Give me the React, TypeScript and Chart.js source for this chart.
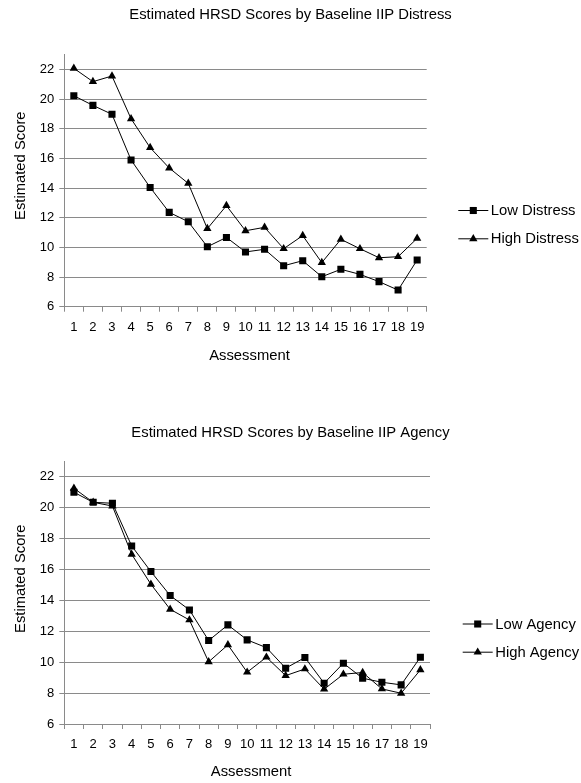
import React, { useEffect, useRef } from 'react';
import { Chart, registerables } from 'chart.js';

Chart.register(...registerables);

// ---------- data ----------
const assessments = ['1', '2', '3', '4', '5', '6', '7', '8', '9', '10', '11', '12', '13', '14', '15', '16', '17', '18', '19'];
const yTickValues = [6, 8, 10, 12, 14, 16, 18, 20, 22];

const lowDistress = [20.22, 19.57, 18.97, 15.89, 14.04, 12.36, 11.73, 10.04, 10.67, 9.69, 9.87, 8.76, 9.1, 8.02, 8.52, 8.18, 7.69, 7.12, 9.15];
const highDistress = [22.07, 21.17, 21.55, 18.67, 16.72, 15.35, 14.31, 11.26, 12.81, 11.12, 11.35, 9.91, 10.79, 8.97, 10.54, 9.91, 9.3, 9.37, 10.61];

const lowAgency = [20.99, 20.34, 20.28, 17.52, 15.86, 14.31, 13.38, 11.4, 12.41, 11.44, 10.94, 9.61, 10.3, 8.64, 9.93, 8.96, 8.7, 8.53, 10.32];
const highAgency = [21.25, 20.34, 20.1, 16.98, 15.04, 13.42, 12.73, 10.02, 11.12, 9.35, 10.32, 9.13, 9.56, 8.25, 9.22, 9.33, 8.27, 7.99, 9.5];

const title1 = 'Estimated HRSD Scores by Baseline IIP Distress';
const title2 = 'Estimated HRSD Scores by Baseline IIP Agency';
const xTitle = 'Assessment';
const yTitle = 'Estimated Score';

// ---------- style ----------
const FAMILY = '"Liberation Sans", Arial, sans-serif';
const BIG = 14.8;
const SMALL = 13;
const GRID = '#8a8a8a';
const INK = '#000000';
const SQUARE_R = 5;
const TRI_R = 4.8;

function drawMarker(ctx: CanvasRenderingContext2D, style: string, r: number, x: number, y: number) {
  ctx.beginPath();
  if (style === 'rect') {
    const s = Math.SQRT1_2 * r;
    ctx.rect(x - s, y - s, 2 * s, 2 * s);
  } else {
    const a = Math.PI / 2;
    ctx.moveTo(x + Math.cos(a + Math.PI) * 0 , y - r);
    ctx.lineTo(x - r * Math.sin(Math.PI / 3), y + r * Math.cos(Math.PI / 3));
    ctx.lineTo(x + r * Math.sin(Math.PI / 3), y + r * Math.cos(Math.PI / 3));
    ctx.closePath();
    void a;
  }
  ctx.fill();
}

const decorPlugin = {
  id: 'decor',
  afterDraw(chart: any, _args: any, opts: any) {
    const ctx: CanvasRenderingContext2D = chart.ctx;
    const ca = chart.chartArea;
    ctx.save();
    ctx.fillStyle = INK;
    ctx.font = `${BIG}px ${FAMILY}`;
    ctx.textAlign = 'center';
    ctx.textBaseline = 'middle';
    // chart title
    ctx.fillText(opts.title, chart.width / 2, opts.titleY);
    // x axis title
    ctx.fillText(opts.xTitle, (ca.left + ca.right) / 2 + 4, opts.xTitleY);
    // y axis title
    ctx.save();
    ctx.translate(opts.yTitleX, opts.yTitleY);
    ctx.rotate(-Math.PI / 2);
    ctx.fillText(opts.yTitle, 0, 0);
    ctx.restore();
    // legend
    chart.data.datasets.forEach((ds: any, i: number) => {
      const y = opts.legendY[i];
      const x0 = opts.legendX;
      ctx.strokeStyle = ds.borderColor;
      ctx.lineWidth = 1;
      ctx.beginPath();
      ctx.moveTo(x0, y + 0.5);
      ctx.lineTo(x0 + 30, y + 0.5);
      ctx.stroke();
      ctx.fillStyle = ds.pointBackgroundColor;
      drawMarker(ctx, ds.pointStyle, ds.pointRadius, x0 + 15, y + 0.5);
      ctx.fillStyle = INK;
      ctx.textAlign = 'left';
      ctx.fillText(ds.label, x0 + 32.5, y + 1);
    });
    ctx.restore();
  },
};

function makeConfig(p: any) {
  const ds = (label: string, data: number[], style: string, r: number) => ({
    label,
    data,
    borderColor: INK,
    backgroundColor: INK,
    borderWidth: 1,
    pointStyle: style,
    pointRadius: r,
    pointHoverRadius: r,
    pointBorderWidth: 0,
    pointBackgroundColor: INK,
    pointBorderColor: INK,
    tension: 0,
  });
  return {
    type: 'line',
    data: {
      labels: assessments,
      datasets: [ds(p.labels[0], p.series[0], 'rect', SQUARE_R), ds(p.labels[1], p.series[1], 'triangle', TRI_R)],
    },
    options: {
      responsive: false,
      animation: false,
      events: [],
      layout: { padding: { top: p.padTop, right: p.padRight, bottom: p.padBottom, left: 0 } },
      plugins: {
        legend: { display: false },
        tooltip: { enabled: false },
        title: { display: false },
        decor: p.decor,
      },
      scales: {
        x: {
          type: 'category',
          offset: true,
          grid: { offset: true, drawOnChartArea: false, drawTicks: true, tickLength: 5, color: GRID, lineWidth: 1 },
          border: { color: GRID, width: 1 },
          ticks: { color: INK, font: { size: SMALL, family: FAMILY }, padding: 8, maxRotation: 0, autoSkip: false },
          afterFit: (s: any) => { s.height = p.xHeight; },
        },
        y: {
          type: 'linear',
          min: 6,
          max: 23,
          afterBuildTicks: (s: any) => { s.ticks = yTickValues.map((v) => ({ value: v })); },
          grid: { color: GRID, lineWidth: 1, tickLength: 5 },
          border: { color: GRID, width: 1 },
          ticks: { color: INK, font: { size: SMALL, family: FAMILY }, padding: 5 },
          afterFit: (s: any) => { s.width = 64.3; },
        },
      },
    },
    plugins: [decorPlugin],
  };
}

function ChartBox({ config, top, height }: { config: any; top: number; height: number }) {
  const ref = useRef<HTMLCanvasElement | null>(null);
  useEffect(() => {
    if (!ref.current) return;
    const chart = new Chart(ref.current, config);
    return () => chart.destroy();
  }, [config]);
  return (
    <canvas
      ref={ref}
      width={581}
      height={height}
      style={{ position: 'absolute', left: 0, top, width: 581, height, display: 'block' }}
    />
  );
}

const config1 = makeConfig({
  labels: ['Low Distress', 'High Distress'],
  series: [lowDistress, highDistress],
  padTop: 54.5,
  padRight: 154.3,
  padBottom: 13.3,
  xHeight: 60,
  decor: {
    title: title1, titleY: 15,
    xTitle, xTitleY: 356,
    yTitle, yTitleX: 20.5, yTitleY: 165.7,
    legendX: 458.3, legendY: [210, 238.3],
  },
});

const config2 = makeConfig({
  labels: ['Low Agency', 'High Agency'],
  series: [lowAgency, highAgency],
  padTop: 71.2,
  padRight: 151,
  padBottom: 9,
  xHeight: 50,
  decor: {
    title: title2, titleY: 43.3,
    xTitle, xTitleY: 381.7,
    yTitle, yTitleX: 20.5, yTitleY: 188.7,
    legendX: 462.7, legendY: [233.5, 261.7],
  },
});

export default function App() {
  return (
    <div style={{ position: 'absolute', left: 0, top: 0, width: 581, height: 783, background: '#fff' }}>
      <ChartBox config={config1} top={0} height={380} />
      <ChartBox config={config2} top={390} height={393} />
    </div>
  );
}
